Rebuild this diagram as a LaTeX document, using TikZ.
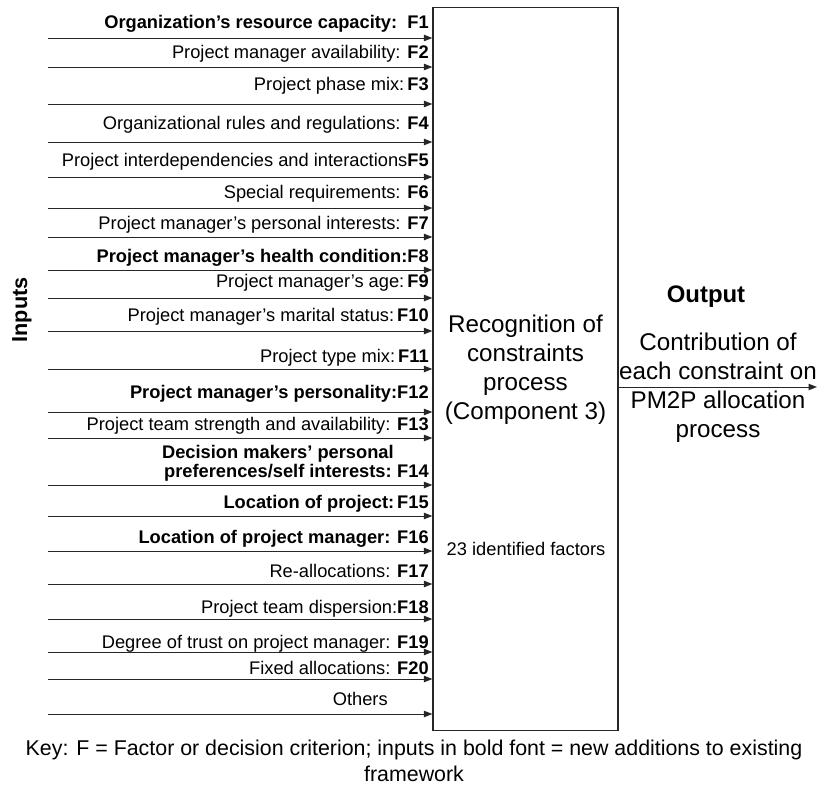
\documentclass[tikz,border=0pt]{standalone}
\usepackage{fontspec}
\setmainfont{Liberation Sans}
\usetikzlibrary{arrows.meta,positioning}

\tikzset{
 factor/.style={anchor=base east,inner sep=0pt,
  font=\fontsize{13}{15}\selectfont},
 inarrow/.style={draw=black!85,line width=0.7pt,
  -{Triangle[length=6pt,width=4.5pt]}},
 blocktext/.style={align=center,inner sep=0pt,
  font=\fontsize{17.2}{20.6}\selectfont},
}

\begin{document}
\begin{tikzpicture}[x=0.025cm,y=-0.025cm]
 \useasboundingbox (0,0) rectangle (819,787);
 % the process block
 \node[draw=black!85,line width=0.8pt,inner sep=0pt,
  minimum width=4.625cm,minimum height=18.05cm] (proc) at (525.5,369) {};
 \node[blocktext] (title) at (525.5,370)
  {Recognition of\\constraints\\process\\(Component 3)};
 \node[factor,anchor=base] (count) at (526,555) {23 identified factors};

 % input arrows
 \foreach \i/\y in {1/38,2/67,3/104,4/142,5/177,6/208,7/237,8/270,
  9/298,10/331,11/369,12/412,13/438,14/485,15/516,16/551,17/584,
  18/619,19/652,20/679,21/714}{
  \coordinate (s\i) at (48,\y);
  \draw[inarrow] (s\i) -- (s\i -| proc.west);
 }

 % factor labels
 \node[factor] (l1) at (429,29)
  {\textbf{Organization’s resource capacity:}\ \ \textbf{F1}};
 \node[factor] (l2) at (429,59) {Project manager availability: \textbf{F2}};
 \node[factor] (l3) at (429,91) {Project phase mix:\,\textbf{F3}};
 \node[factor] (l4) at (429,130)
  {Organizational rules and regulations: \textbf{F4}};
 \node[factor] (l5) at (429,167)
  {Project interdependencies and interactions\textbf{F5}};
 \node[factor] (l6) at (429,199) {Special requirements: \textbf{F6}};
 \node[factor] (l7) at (429,229)
  {Project manager’s personal interests: \textbf{F7}};
 \node[factor] (l8) at (429,262)
  {\textbf{Project manager’s health condition:F8}};
 \node[factor] (l9) at (429,287) {Project manager’s age:\,\textbf{F9}};
 \node[factor] (l10) at (429,321)
  {Project manager’s marital status:\,\textbf{F10}};
 \node[factor] (l11) at (429,362) {Project type mix:\,\textbf{F11}};
 \node[factor] (l12) at (429,398)
  {\textbf{Project manager’s personality:F12}};
 \node[factor] (l13) at (429,430)
  {Project team strength and availability: \textbf{F13}};
 \node[factor] (l14) at (429,477) {\textbf{F14}};
 \node[factor] (l14b) at (392,477) {\textbf{preferences/self interests:}};
 \node[factor,anchor=base] (l14a) at ([yshift=0.475cm]l14b.base)
  {\textbf{Decision makers’ personal}};
 \node[factor] (l15) at (429,508) {\textbf{Location of project:\,F15}};
 \node[factor] (l16) at (429,543)
  {\textbf{Location of project manager: F16}};
 \node[factor] (l17) at (429,577) {Re-allocations: \textbf{F17}};
 \node[factor] (l18) at (429,613) {Project team dispersion:\textbf{F18}};
 \node[factor] (l19) at (429,648)
  {Degree of trust on project manager: \textbf{F19}};
 \node[factor] (l20) at (429,674) {Fixed allocations: \textbf{F20}};
 \node[factor] (l21) at (388,705) {Others};

 \node[rotate=90,inner sep=0pt,font=\fontsize{15.4}{18}\selectfont\bfseries]
  (inputs) at (22,310) {Inputs};

 % output side
 \node[inner sep=0pt,anchor=base,font=\fontsize{17}{20}\selectfont\bfseries]
  (outlbl) at (706,302) {Output};
 \coordinate (o1) at (817,387);
 \draw[inarrow] (o1 -| proc.east) -- (o1);
 \node[blocktext] (result) at (718,388)
  {Contribution of\\each constraint on\\PM2P allocation\\process};

 % key
 \node[align=center,inner sep=0pt,font=\fontsize{15.2}{18.5}\selectfont]
  (key) at (414,761)
  {Key: F = Factor or decision criterion; inputs in bold font = new additions to existing\\framework};
\end{tikzpicture}
\end{document}
